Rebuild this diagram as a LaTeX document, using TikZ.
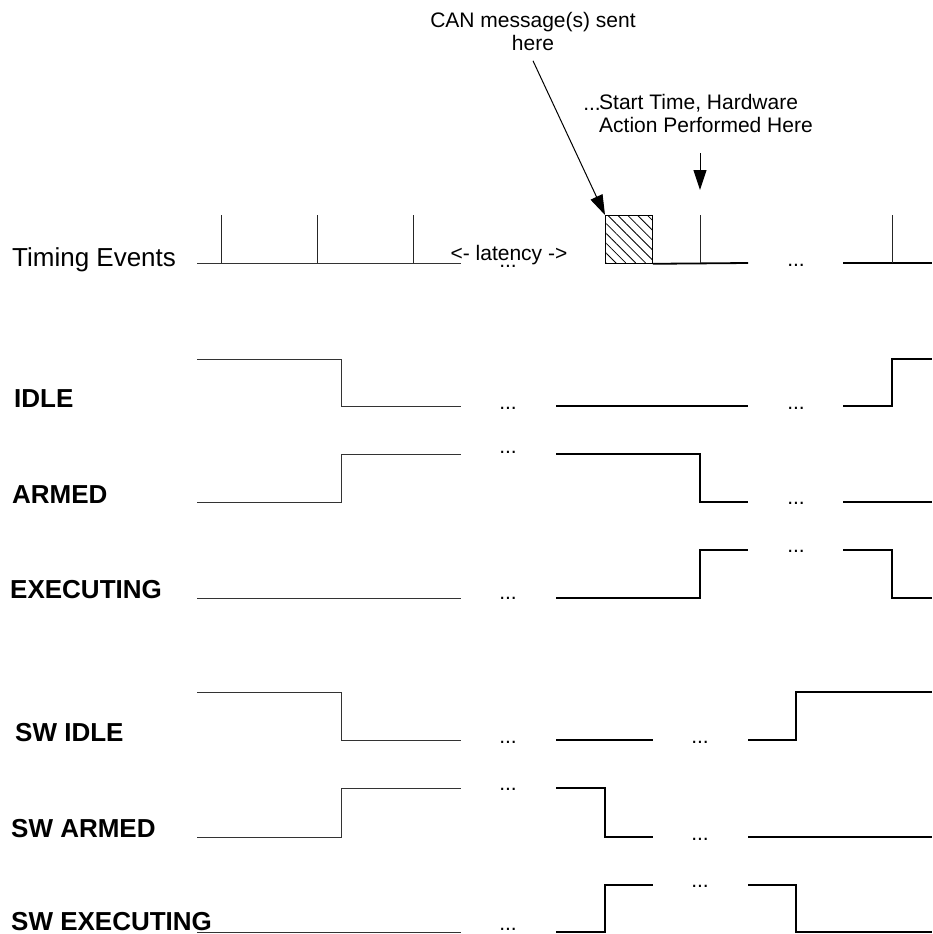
\documentclass[tikz,border=0pt]{standalone}
\usepackage{fontspec}
\setmainfont{Liberation Sans}
\usetikzlibrary{arrows.meta, patterns.meta}

\begin{document}
\begin{tikzpicture}[
  x=1pt, y=-1pt,
  %% ── line styles ──────────────────────────────────────────────────────────
  sigthin/.style = {line width=1pt, draw=black!80},
  sigbold/.style = {line width=1.8pt, draw=black},
  evt/.style     = {line width=1pt, draw=black!85},
  arr/.style     = {-{Triangle[length=20pt, width=13pt]}, line width=1pt},
  %% ── text styles ──────────────────────────────────────────────────────────
  lbl/.style  = {font=\fontsize{26}{28}\selectfont\bfseries,
                 anchor=base west, inner sep=0pt},
  txt/.style  = {font=\fontsize{21}{23}\selectfont, inner sep=0pt},
  dots/.style = {txt, anchor=base},
]
\useasboundingbox (0,0) rectangle (932,934);

%% ═══════════════════════════════════════════════════════════════════════════
%% ANNOTATIONS (top)
%% ═══════════════════════════════════════════════════════════════════════════
\node[txt, align=center, anchor=north] (can) at (533,12)
      {CAN message(s) sent\\here};
\node[txt, align=left, anchor=north west] (start) at (599,94)
      {Start Time, Hardware\\Action Performed Here};
\node[dots, anchor=base east] (startdots) at (601,110) {...};

%% ── CAN frame box on the timing line ─────────────────────────────────────
\node[draw, line width=1.5pt, inner sep=0pt, anchor=north west,
      minimum width=47pt, minimum height=48pt,
      pattern={Lines[angle=-45, distance=7pt, line width=0.8pt]}]
      (canbox) at (605,215) {};

\coordinate (hwtop) at (700,153);
\coordinate (hwend) at (700,190);
\draw[arr] (can.south) ++(0,10) -- (canbox.north west);
\draw[arr] (hwtop) -- (hwend);

%% ═══════════════════════════════════════════════════════════════════════════
%% TIMING EVENTS
%% ═══════════════════════════════════════════════════════════════════════════
\node[txt, font=\fontsize{26}{28}\selectfont, anchor=base west] (timing)
      at (12,266) {Timing Events};
\draw[sigthin] (197,263) -- (461,263);
\foreach \tx in {221,317,413}
  \draw[evt] (\tx,215) -- (\tx,263);
\draw[sigbold] (canbox.south east) -- (748,263);
\draw[evt] (700,215) -- (700,263);
\draw[sigbold] (843,263) -- (932,263);
\draw[evt] (892,215) -- (892,263);
\node[txt, anchor=base] (latency) at (509,260) {<- latency ->};

%% ═══════════════════════════════════════════════════════════════════════════
%% HARDWARE STATES
%% ═══════════════════════════════════════════════════════════════════════════
\node[lbl] (idle)  at (14,407) {IDLE};
\node[lbl] (armed) at (12,503) {ARMED};
\node[lbl] (exec)  at (10,598) {EXECUTING};

%% ── IDLE ──
\draw[sigthin] (197,359) -- (341,359) -- (341,406) -- (461,406);
\draw[sigbold] (556,406) -- (748,406);
\draw[sigbold] (843,406) -- (892,406) -- (892,359) -- (932,359);
%% ── ARMED ──
\draw[sigthin] (197,502) -- (341,502) -- (341,454) -- (461,454);
\draw[sigbold] (556,454) -- (700,454) -- (700,502) -- (748,502);
\draw[sigbold] (843,502) -- (932,502);
%% ── EXECUTING ──
\draw[sigthin] (197,598) -- (461,598);
\draw[sigbold] (556,598) -- (700,598) -- (700,550) -- (748,550);
\draw[sigbold] (843,550) -- (892,550) -- (892,598) -- (932,598);

%% ═══════════════════════════════════════════════════════════════════════════
%% SOFTWARE STATES
%% ═══════════════════════════════════════════════════════════════════════════
\node[lbl] (swidle)  at (15,741) {SW IDLE};
\node[lbl] (swarmed) at (11,837) {SW ARMED};
\node[lbl] (swexec)  at (11,930) {SW EXECUTING};

%% ── SW IDLE ──
\draw[sigthin] (197,692) -- (341,692) -- (341,740) -- (461,740);
\draw[sigbold] (556,740) -- (653,740);
\draw[sigbold] (748,740) -- (796,740) -- (796,692) -- (932,692);
%% ── SW ARMED ──
\draw[sigthin] (197,837) -- (341,837) -- (341,788) -- (461,788);
\draw[sigbold] (556,788) -- (605,788) -- (605,837) -- (653,837);
\draw[sigbold] (748,837) -- (932,837);
%% ── SW EXECUTING ──
\draw[sigthin] (197,932) -- (461,932);
\draw[sigbold] (556,932) -- (605,932) -- (605,885) -- (653,885);
\draw[sigbold] (748,885) -- (796,885) -- (796,932) -- (932,932);

%% ── gap markers ──────────────────────────────────────────────────────────
\foreach \dx/\dy in {508/267, 796/266,
                     508/409, 796/409, 508/453, 796/504, 508/599, 796/552,
                     508/743, 700/743, 508/790, 700/840, 508/930, 700/887}
  \node[dots] at (\dx,\dy) {...};

\end{tikzpicture}
\end{document}
